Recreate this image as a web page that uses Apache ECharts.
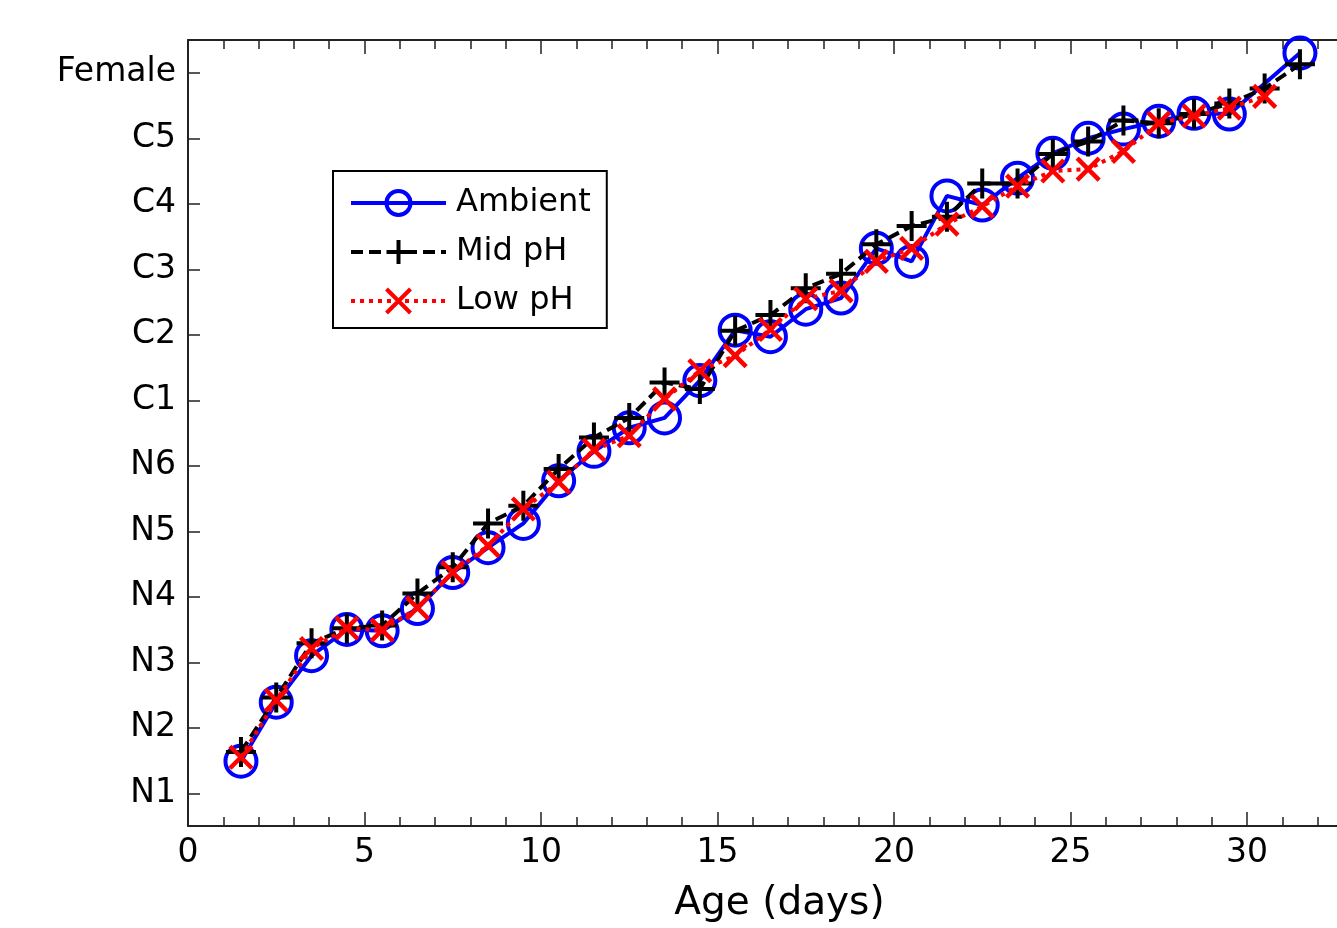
<!DOCTYPE html>
<html lang="en">
<head>
    <meta charset="UTF-8">
    <title>Development stage vs age</title>
    <script src="https://cdn.jsdelivr.net/npm/echarts@6/dist/echarts.min.js"></script>
    <style>
        html, body { margin: 0; padding: 0; background: #fff; }
        #chart { width: 1337px; height: 928px; }
    </style>
</head>
<body>
    <div id="chart"></div>
    <script>
        // stage names, N1 = 1 ... Female = 12
        var stages = ['N1', 'N2', 'N3', 'N4', 'N5', 'N6', 'C1', 'C2', 'C3', 'C4', 'C5', 'Female'];
        var stageTicks = [1, 2, 3, 4, 5, 6, 7, 8, 9, 10, 11, 12];
        var ageMajorTicks = [0, 5, 10, 15, 20, 25, 30];
        var ageMinorTicks = [1, 2, 3, 4, 6, 7, 8, 9, 11, 12, 13, 14, 16, 17, 18, 19, 21, 22, 23, 24, 26, 27, 28, 29, 31, 32];

        // age (days) and mean stage for each treatment
        var ageAmbient = [1.5, 2.5, 3.5, 4.5, 5.5, 6.5, 7.5, 8.5, 9.5, 10.5, 11.5, 12.5, 13.5, 14.5, 15.5, 16.5,
            17.5, 18.5, 19.5, 20.5, 21.5, 22.5, 23.5, 24.5, 25.5, 26.5, 27.5, 28.5, 29.5, 31.5];
        var stageAmbient = [1.49, 2.39, 3.10, 3.50, 3.48, 3.82, 4.37, 4.75, 5.12, 5.77, 6.22, 6.58, 6.73, 7.30, 8.07, 7.97,
            8.39, 8.56, 9.32, 9.12, 10.12, 9.98, 10.39, 10.77, 11.00, 11.14, 11.26, 11.38, 11.37, 12.30];

        var ageMid = [1.5, 2.5, 3.5, 4.5, 5.5, 6.5, 7.5, 8.5, 9.5, 10.5, 11.5, 12.5, 13.5, 14.5, 15.5, 16.5,
            17.5, 18.5, 19.5, 20.5, 21.5, 22.5, 23.5, 24.5, 25.5, 26.5, 27.5, 28.5, 29.5, 30.5, 31.5];
        var stageMid = [1.63, 2.46, 3.29, 3.52, 3.56, 4.05, 4.45, 5.12, 5.39, 5.95, 6.43, 6.73, 7.27, 7.17, 8.06, 8.30,
            8.71, 8.93, 9.38, 9.66, 9.80, 10.31, 10.31, 10.76, 10.95, 11.27, 11.23, 11.37, 11.53, 11.76, 12.13];

        var ageLow = [1.5, 2.5, 3.5, 4.5, 5.5, 6.5, 7.5, 8.5, 9.5, 10.5, 11.5, 12.5, 13.5, 14.5, 15.5, 16.5,
            17.5, 18.5, 19.5, 20.5, 21.5, 22.5, 23.5, 24.5, 25.5, 26.5, 27.5, 28.5, 29.5, 30.5];
        var stageLow = [1.55, 2.42, 3.21, 3.52, 3.49, 3.83, 4.37, 4.78, 5.34, 5.75, 6.24, 6.46, 7.02, 7.45, 7.68, 8.08,
            8.55, 8.67, 9.12, 9.32, 9.69, 9.96, 10.27, 10.50, 10.53, 10.80, 11.23, 11.34, 11.46, 11.64];

        function pairs(xs, ys) {
            return xs.map(function (x, i) { return [x, ys[i]]; });
        }

        var font = 'DejaVu Sans';
        var axisColor = '#222';
        var xMax = 32.55; // the right side of the plot is cut off in the original

        // one x axis for each tick set, top and bottom
        function ageAxis(position, ticks, len, showLine, showLabel) {
            var ax = {
                type: 'value',
                position: position,
                min: 0,
                max: xMax,
                axisLine: { show: showLine, onZero: false, lineStyle: { color: axisColor, width: 2 } },
                axisTick: {
                    show: true, inside: true, length: len, customValues: ticks,
                    lineStyle: { color: axisColor, width: 1.5 }
                },
                axisLabel: { show: false },
                splitLine: { show: false }
            };
            if (showLabel) {
                ax.name = 'Age (days)';
                ax.nameLocation = 'middle';
                ax.nameGap = 58;
                ax.nameTextStyle = { fontFamily: font, fontSize: 39, color: '#000', padding: [0, 0, 0, 34] };
                ax.axisLabel = {
                    show: true, fontFamily: font, fontSize: 33, color: '#000', margin: 11,
                    customValues: ageMajorTicks
                };
            }
            return ax;
        }

        var myChart = echarts.init(document.getElementById('chart'));

        var option = {
            animation: false,
            backgroundColor: '#fff',
            grid: { left: 188, top: 40, right: 0, bottom: 98 },
            legend: {
                orient: 'vertical',
                left: 333,
                top: 171,
                padding: [16, 16, 11, 16],
                itemWidth: 95,
                itemHeight: 30,
                itemGap: 17,
                borderColor: '#000',
                borderWidth: 2,
                backgroundColor: '#fff',
                lineStyle: { width: 4 },
                itemStyle: { borderWidth: 4 },
                textStyle: { fontFamily: font, fontSize: 32, color: '#000', padding: [0, 0, 0, 5] },
                data: ['Ambient', 'Mid pH', 'Low pH']
            },
            xAxis: [
                ageAxis('bottom', ageMajorTicks, 14, true, true),
                ageAxis('bottom', ageMinorTicks, 9, false, false),
                ageAxis('top', ageMajorTicks, 14, true, false),
                ageAxis('top', ageMinorTicks, 9, false, false)
            ],
            yAxis: {
                type: 'value',
                min: 0.5,
                max: 12.5,
                axisLine: { show: true, onZero: false, lineStyle: { color: axisColor, width: 2 } },
                axisTick: {
                    show: true, inside: true, length: 12,
                    customValues: stageTicks,
                    lineStyle: { color: axisColor, width: 1.5 }
                },
                axisLabel: {
                    fontFamily: font, fontSize: 33, color: '#000', margin: 12,
                    customValues: stageTicks,
                    formatter: function (v) { return stages[Math.round(v) - 1]; }
                },
                splitLine: { show: false }
            },
            series: [
                {
                    name: 'Ambient',
                    type: 'line',
                    data: pairs(ageAmbient, stageAmbient),
                    symbol: 'circle',
                    symbolSize: 31,
                    lineStyle: { color: '#0000ff', width: 4, type: 'solid' },
                    itemStyle: { color: 'rgba(0,0,0,0)', borderColor: '#0000ff', borderWidth: 4 },
                    z: 2
                },
                {
                    name: 'Mid pH',
                    type: 'line',
                    data: pairs(ageMid, stageMid),
                    symbol: 'path://M15,0 L15,30 M0,15 L30,15',
                    symbolSize: 30,
                    lineStyle: { color: '#000', width: 4, type: [12, 6] },
                    itemStyle: { color: 'rgba(0,0,0,0)', borderColor: '#000', borderWidth: 4 },
                    z: 3
                },
                {
                    name: 'Low pH',
                    type: 'line',
                    data: pairs(ageLow, stageLow),
                    symbol: 'path://M0,0 L22,22 M22,0 L0,22',
                    symbolSize: 22,
                    lineStyle: { color: '#ff0000', width: 4, type: [4, 5] },
                    itemStyle: { color: 'rgba(0,0,0,0)', borderColor: '#ff0000', borderWidth: 4.5 },
                    z: 4
                }
            ]
        };

        myChart.setOption(option);
    </script>
</body>
</html>
